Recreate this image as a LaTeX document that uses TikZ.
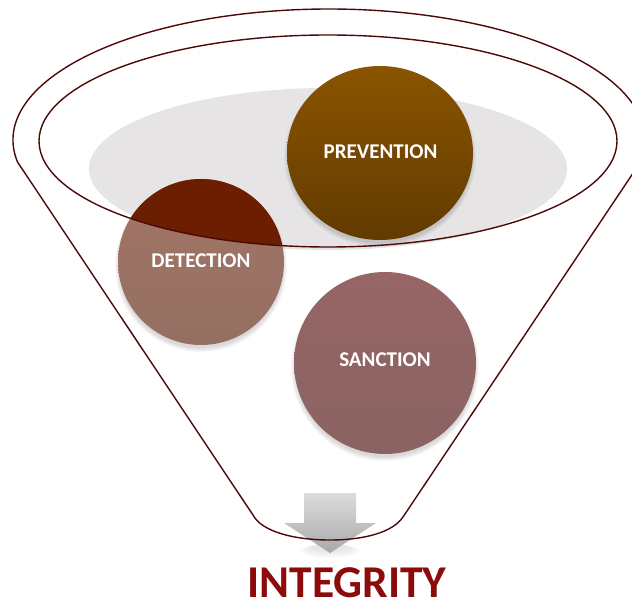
\documentclass[tikz,border=0pt]{standalone}
\usepackage{fontspec}
\setmainfont{Carlito}
\definecolor{funnelline}{HTML}{4E0808}
\definecolor{grayfill}{HTML}{E6E4E5}
\definecolor{prevtop}{HTML}{8A5400}
\definecolor{prevbot}{HTML}{623B00}
\definecolor{dettop}{HTML}{A37566}
\definecolor{detbot}{HTML}{946F62}
\definecolor{detdark}{HTML}{6B1E00}
\definecolor{santop}{HTML}{976565}
\definecolor{sanbot}{HTML}{8A6363}
\definecolor{integ}{HTML}{8C0C0C}
\definecolor{arrtop}{HTML}{DCDCDC}
\definecolor{arrbot}{HTML}{A9A9A9}
\tikzset{
  funnel/.style={draw=funnelline, line width=1.4pt},
  lbl/.style={font=\fontsize{21}{21}\selectfont\bfseries, text=white, inner sep=0pt},
  title/.style={font=\fontsize{45.5}{45.5}\selectfont\bfseries, text=integ, inner sep=0pt},
  softshadow/.style={fill=black, opacity=0.03}
}
\begin{document}
\begin{tikzpicture}[x=1pt,y=-1pt]
\useasboundingbox (0,0) rectangle (632,601);
% gray disc
\fill[grayfill] (328,169) ellipse[x radius=239, y radius=81];
% shadows
\foreach \i in {0,...,4} {
  \fill[softshadow] (380,157) ellipse[x radius=92+\i, y radius=86+\i];
  \fill[softshadow] (201,266) circle[radius=82+\i];
  \fill[softshadow] (385,367) circle[radius=90+\i];
}
% PREVENTION
\shade[top color=prevtop, bottom color=prevbot] (380,153) ellipse[x radius=93, y radius=87];
% DETECTION
\shade[top color=dettop, bottom color=detbot] (201,262) circle[radius=83];
\begin{scope}
  \clip (328,141) ellipse[x radius=289, y radius=106];
  \fill[detdark] (201,262) circle[radius=83];
\end{scope}
% SANCTION
\shade[top color=santop, bottom color=sanbot] (385,363) circle[radius=91];
% arrow shadow
\foreach \i in {0,...,3} {
  \fill[fill=black, opacity=0.025] (330,548+\i) ellipse[x radius=20+3*\i, y radius=4+\i];
}
% arrow
\shade[top color=arrtop, bottom color=arrbot]
  (304,493) -- (356,493) -- (356,523) -- (376,523) -- (330,553) -- (284,523) -- (304,523) -- cycle;
% funnel outlines
\draw[funnel] (17.5,162) arc[start angle=170.33, end angle=369.67, x radius=316, y radius=131]
  -- (403,517) .. controls (393,532) and (365,540) .. (330,540)
  .. controls (295,540) and (262,532) .. (253,515) -- cycle;
\draw[funnel] (328,141) ellipse[x radius=289, y radius=106];
% labels
\node[lbl] (prev) at (380.5,152) {PREVENTION};
\node[lbl] (det) at (201,261) {DETECTION};
\node[lbl] (san) at (385,360) {SANCTION};
\node[title] (integrity) at (347,583) {INTEGRITY};
\end{tikzpicture}
\end{document}
